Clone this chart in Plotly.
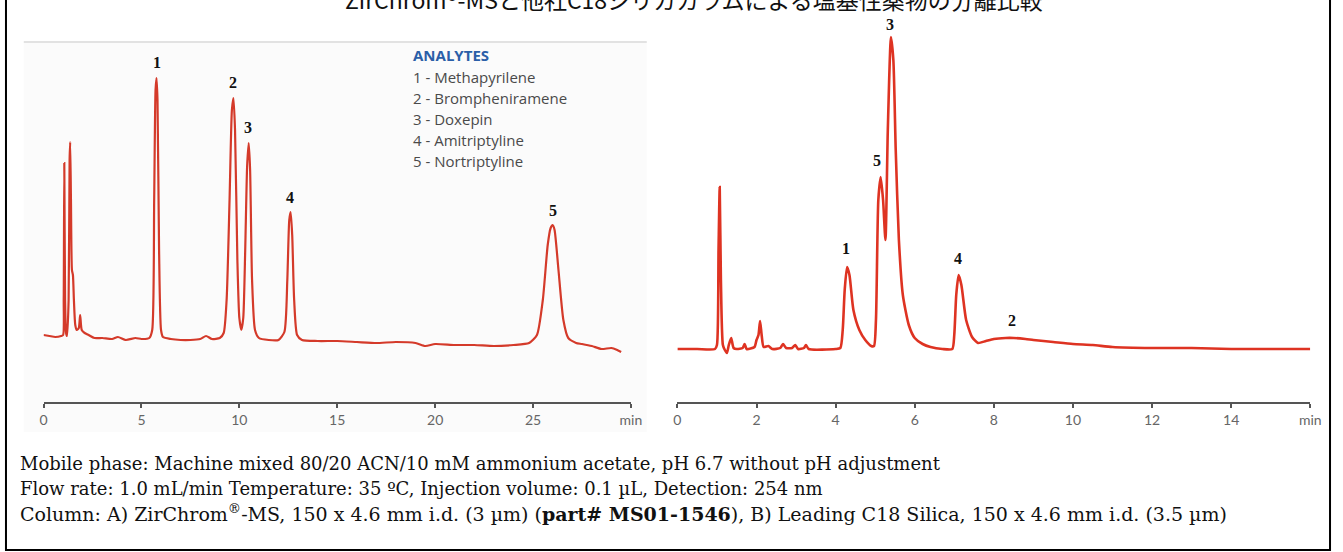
import plotly.graph_objects as go

W, H = 1343, 552

# ---------------- data ----------------
# Left chromatogram: A) ZirChrom-MS  (time in min, signal in arbitrary units)
left_time = [0.0, 0.3, 0.6, 0.9, 1.0, 1.03, 1.06, 1.1, 1.15, 1.2, 1.28, 1.33, 1.36, 1.4, 1.45,
             1.5, 1.55, 1.62, 1.7, 1.8, 1.87, 1.95, 2.1, 2.3, 2.6, 3.0, 3.5, 3.8, 4.2, 4.7,
             5.0, 5.4, 5.55, 5.65, 5.72, 5.77, 5.82, 5.9, 6.0, 6.1, 6.5, 7.0, 7.5, 8.0, 8.3,
             8.6, 9.0, 9.2, 9.35, 9.5, 9.62, 9.7, 9.78, 9.9, 10.0, 10.1, 10.2, 10.3, 10.4, 10.48,
             10.55, 10.65, 10.8, 11.0, 11.5, 12.0, 12.3, 12.45, 12.55, 12.62, 12.7, 12.8, 12.95, 13.2, 14.0,
             15.0, 16.0, 17.0, 18.0, 19.0, 19.5, 20.0, 21.0, 22.0, 23.0, 24.0, 24.8, 25.2, 25.5, 25.75,
             25.9, 26.0, 26.1, 26.3, 26.55, 26.8, 27.2, 27.5, 28.0, 28.5, 29.0, 29.3, 29.5]
left_signal = [5, 4, 3, 4, 5, 40, 177, 40, 7, 4, 40, 180, 198, 140, 70,
               65, 40, 15, 10, 12, 25, 10, 7, 5, 2, 2, 1, 3, 0, 2,
               1, 2, 10, 140, 250, 262, 240, 90, 10, 3, 1, 0, 0, 1, 4,
               1, 2, 7, 40, 140, 230, 242, 210, 80, 22, 10, 22, 90, 175, 197,
               170, 60, 10, 2, 0, 0, 8, 60, 120, 128, 105, 40, 5, 0, -1,
               -1, -2, -3, -2, -3, -6, -4, -5, -5, -6, -5, -3, 5, 40, 95,
               112, 115, 110, 70, 20, 2, -3, -4, -6, -9, -8, -10, -12]

# Right chromatogram: B) Leading C18 Silica
right_time = [0.0, 0.5, 0.95, 1.0, 1.04, 1.07, 1.1, 1.15, 1.2, 1.25, 1.3, 1.36, 1.42, 1.5, 1.65,
              1.7, 1.75, 1.95, 2.0, 2.05, 2.09, 2.13, 2.18, 2.3, 2.4, 2.6, 2.67, 2.75, 2.9, 2.98,
              3.05, 3.2, 3.25, 3.32, 4.0, 4.12, 4.18, 4.23, 4.29, 4.35, 4.45, 4.6, 4.75, 4.9, 4.97,
              5.02, 5.08, 5.14, 5.2, 5.26, 5.32, 5.4, 5.46, 5.52, 5.6, 5.7, 5.85, 6.0, 6.2, 6.4,
              6.7, 6.95, 7.0, 7.05, 7.11, 7.18, 7.3, 7.45, 7.6, 7.8, 8.0, 8.3, 8.5, 8.8, 9.0,
              9.5, 10.0, 10.5, 11.0, 12.0, 13.0, 14.0, 15.0, 16.0]
right_signal = [0, 0, 0, 4, 99, 162, 69, 4, -1, -4, 4, 11, 1, 0, 1,
                5, 0, 2, 9, 14, 28, 14, 2, 3, 0, 1, 5, 1, 1, 4,
                0, 1, 4, 0, 0, 1, 19, 59, 82, 74, 39, 19, 9, 3, 3,
                29, 149, 172, 149, 109, 219, 312, 289, 199, 109, 54, 24, 11, 5, 2,
                0, 0, 14, 54, 74, 64, 29, 12, 6, 8, 10, 11, 11, 10, 9,
                7, 5, 4, 2, 1, 1, 0, 0, 0]

# peak labels
left_peak_names = ["1", "2", "3", "4", "5"]
left_peak_time = [5.77, 9.68, 10.42, 12.6, 26.0]
left_peak_label_y = [278, 258, 213, 143, 130]

right_peak_names = ["1", "5", "3", "4", "2"]
right_peak_time = [4.27, 5.05, 5.37, 7.1, 8.45]
right_peak_label_y = [101, 189, 325, 91, 29]

left_ticks = [0, 5, 10, 15, 20, 25, 30]
left_ticktext = ["0", "5", "10", "15", "20", "25", "min"]
right_ticks = [0, 2, 4, 6, 8, 10, 12, 14, 16]
right_ticktext = ["0", "2", "4", "6", "8", "10", "12", "14", "min"]

analytes_title = "ANALYTES"
analytes = ["1 - Methapyrilene", "2 - Brompheniramene", "3 - Doxepin",
            "4 - Amitriptyline", "5 - Nortriptyline"]

title_text = "ZirChrom®-MSと他社C18シリカカラムによる塩基性薬物の分離比較"
footer_lines = [
    "Mobile phase: Machine mixed 80/20 ACN/10 mM ammonium acetate, pH 6.7 without pH adjustment",
    "Flow rate: 1.0 mL/min Temperature: 35 ºC, Injection volume: 0.1 µL, Detection: 254 nm",
    "Column: A) ZirChrom<sup>®</sup>-MS, 150 x 4.6 mm i.d. (3 µm) (<b>part# MS01-1546</b>), B) Leading C18 Silica, 150 x 4.6 mm i.d. (3.5 µm)",
]
footer_sizes = [18, 18, 19]

# ---------------- helpers ----------------
def px(x):
    return x / W

def py(y):
    return 1 - y / H

fig = go.Figure()

fig.add_trace(go.Scatter(x=left_time, y=left_signal, mode="lines",
                         line=dict(color="#d43a2a", width=2.2, shape="spline", smoothing=0.6),
                         xaxis="x", yaxis="y", showlegend=False, hoverinfo="skip"))
fig.add_trace(go.Scatter(x=right_time, y=right_signal, mode="lines",
                         line=dict(color="#de3322", width=2.6, shape="spline", smoothing=0.6),
                         xaxis="x2", yaxis="y2", showlegend=False, hoverinfo="skip"))

axis_common = dict(showgrid=False, zeroline=False, showline=True, linecolor="#555555",
                   linewidth=2, ticks="outside", ticklen=4, tickwidth=1.5, tickcolor="#555555",
                   tickfont=dict(family="Lato", size=14, color="#666666"), fixedrange=True)

ydom = [py(402), 1.0]
fig.update_layout(
    width=W, height=H,
    margin=dict(l=0, r=0, t=0, b=0),
    paper_bgcolor="white", plot_bgcolor="rgba(0,0,0,0)",
    xaxis=dict(domain=[px(40), px(634)], range=[0, 30], anchor="y",
               tickvals=left_ticks, ticktext=left_ticktext, **axis_common),
    yaxis=dict(domain=ydom, range=[-62, 340], visible=False, fixedrange=True),
    xaxis2=dict(domain=[px(681), px(1321)], range=[0, 16], anchor="y2",
                tickvals=right_ticks, ticktext=right_ticktext, **axis_common),
    yaxis2=dict(domain=ydom, range=[-53, 349], visible=False, fixedrange=True),
)

shapes = [
    # left panel faint background and top rule
    dict(type="rect", xref="paper", yref="paper", x0=px(20), x1=px(650), y0=py(432), y1=py(42),
         fillcolor="#fbfbfb", line=dict(width=0), layer="below"),
    dict(type="line", xref="paper", yref="paper", x0=px(20), x1=px(650), y0=py(42), y1=py(42),
         line=dict(color="#e2e2e2", width=2), layer="below"),
    # outer border
    dict(type="rect", xref="paper", yref="paper", x0=px(2), x1=px(1341), y0=py(550), y1=py(-20),
         line=dict(color="black", width=2), fillcolor="rgba(0,0,0,0)"),
]
fig.update_layout(shapes=shapes)

annotations = []
for name, t, yv in zip(left_peak_names, left_peak_time, left_peak_label_y):
    annotations.append(dict(x=t, y=yv, xref="x", yref="y", text=f"<b>{name}</b>", showarrow=False,
                            font=dict(family="Liberation Serif", size=16, color="#111111")))
for name, t, yv in zip(right_peak_names, right_peak_time, right_peak_label_y):
    annotations.append(dict(x=t, y=yv, xref="x2", yref="y2", text=f"<b>{name}</b>", showarrow=False,
                            font=dict(family="Liberation Serif", size=16, color="#111111")))

annotations.append(dict(x=px(412), y=py(55), xref="paper", yref="paper", xanchor="left", yanchor="middle",
                        text=f"<b>{analytes_title}</b>", showarrow=False,
                        font=dict(family="Open Sans", size=15, color="#2b5fa8")))
for i, a in enumerate(analytes):
    annotations.append(dict(x=px(412), y=py(77 + 21 * i), xref="paper", yref="paper",
                            xanchor="left", yanchor="middle", text=a, showarrow=False,
                            font=dict(family="Open Sans", size=15, color="#4a4a4a")))

annotations.append(dict(x=px(698), y=py(-1), xref="paper", yref="paper", xanchor="center",
                        yanchor="middle", text=title_text, showarrow=False,
                        font=dict(family="Noto Sans CJK JP", size=23, color="#111111")))

for i, (line, fs) in enumerate(zip(footer_lines, footer_sizes)):
    annotations.append(dict(x=px(14), y=py(463 + 25 * i), xref="paper", yref="paper",
                            xanchor="left", yanchor="middle", text=line, showarrow=False,
                            font=dict(family="DejaVu Serif", size=fs, color="#111111")))

fig.update_layout(annotations=annotations)

fig.write_html("out.html", config={"displayModeBar": False},
               post_script="document.body.style.margin='0';document.body.style.padding='0';")
